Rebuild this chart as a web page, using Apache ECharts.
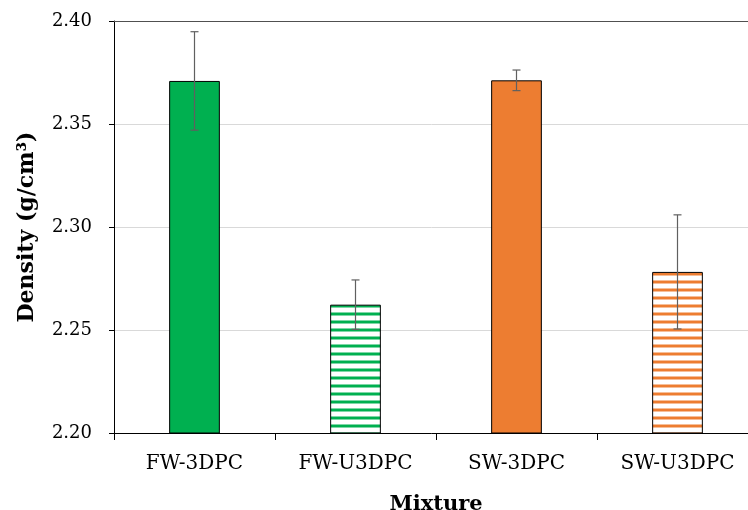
<!DOCTYPE html>
<html>
<head>
<meta charset="utf-8">
<script src="https://cdn.jsdelivr.net/npm/echarts@6/dist/echarts.min.js"></script>
<style>html,body{margin:0;padding:0;background:#fff;}#c{width:748px;height:510px;}</style>
</head>
<body>
<div id="c"></div>
<script>
var categories = ['FW-3DPC', 'FW-U3DPC', 'SW-3DPC', 'SW-U3DPC'];
var densityMean = [2.3709, 2.2623, 2.3712, 2.2782];
var densityErr = [0.0239, 0.0120, 0.0050, 0.0277];
var yTicks = [2.20, 2.25, 2.30, 2.35, 2.40];

var GREEN = '#00B050', ORANGE = '#ED7D31';

function stripe(color, light) {
  var c = document.createElement('canvas');
  c.width = 8; c.height = 8;
  var g = c.getContext('2d');
  g.fillStyle = '#ffffff'; g.fillRect(0, 0, 8, 8);
  g.fillStyle = light; g.fillRect(0, 0, 8, 1); g.fillRect(0, 3, 8, 1);
  g.fillStyle = color; g.fillRect(0, 1, 8, 2);
  return { image: c, repeat: 'repeat' };
}

var fills = [GREEN, stripe(GREEN, '#7fd7a7'), ORANGE, stripe(ORANGE, '#f6be98')];
var barData = densityMean.map(function (v, i) {
  return { value: v, itemStyle: { color: fills[i] } };
});
var errData = densityMean.map(function (v, i) { return [i, v, densityErr[i]]; });

var FONT = 'DejaVu Serif';
var chart = echarts.init(document.getElementById('c'), null, { renderer: 'canvas' });
chart.setOption({
  animation: false,
  backgroundColor: '#fff',
  grid: { left: 114, width: 644, top: 21, bottom: 77, containLabel: false, outerBoundsMode: 'none' },
  xAxis: [{
    type: 'category',
    data: categories,
    name: 'Mixture',
    nameLocation: 'middle',
    nameGap: 61,
    nameTextStyle: { fontFamily: FONT, fontWeight: 'bold', fontSize: 21, color: '#000' },
    axisLine: { lineStyle: { color: '#000', width: 1 } },
    axisTick: { show: true, length: 7, lineStyle: { color: '#000' } },
    axisLabel: { fontFamily: FONT, fontSize: 20, color: '#000', margin: 21 }
  }, {
    type: 'category',
    data: categories,
    position: 'top',
    axisLine: { show: true, lineStyle: { color: '#505050', width: 1.2 } },
    axisTick: { show: false },
    axisLabel: { show: false }
  }],
  yAxis: {
    type: 'value',
    min: yTicks[0],
    max: yTicks[yTicks.length - 1],
    interval: 0.05,
    name: 'Density (g/cm³)',
    nameLocation: 'middle',
    nameGap: 76,
    nameTextStyle: { fontFamily: FONT, fontWeight: 'bold', fontSize: 22, color: '#000' },
    axisLine: { show: true, lineStyle: { color: '#000', width: 1 } },
    axisTick: { show: true, length: 5, lineStyle: { color: '#000' } },
    axisLabel: { fontFamily: FONT, fontSize: 18, color: '#000', margin: 22,
      formatter: function (v) { return v.toFixed(2); } },
    splitLine: { show: true, lineStyle: { color: '#d9d9d9', width: 1 } }
  },
  series: [{
    type: 'bar',
    data: barData,
    barWidth: '31.5%',
    itemStyle: { borderColor: '#000', borderWidth: 1 }
  }, {
    type: 'custom',
    data: errData,
    encode: { x: 0, y: 1 },
    z: 10,
    renderItem: function (params, api) {
      var i = api.value(0), m = api.value(1), e = api.value(2);
      var hi = api.coord([i, m + e]);
      var lo = api.coord([i, m - e]);
      var w = 4;
      var st = { stroke: '#606060', lineWidth: 1.2 };
      return {
        type: 'group',
        children: [
          { type: 'line', shape: { x1: hi[0], y1: hi[1], x2: lo[0], y2: lo[1] }, style: st },
          { type: 'line', shape: { x1: hi[0] - w, y1: hi[1], x2: hi[0] + w, y2: hi[1] }, style: st },
          { type: 'line', shape: { x1: lo[0] - w, y1: lo[1], x2: lo[0] + w, y2: lo[1] }, style: st }
        ]
      };
    }
  }]
});
</script>
</body>
</html>
